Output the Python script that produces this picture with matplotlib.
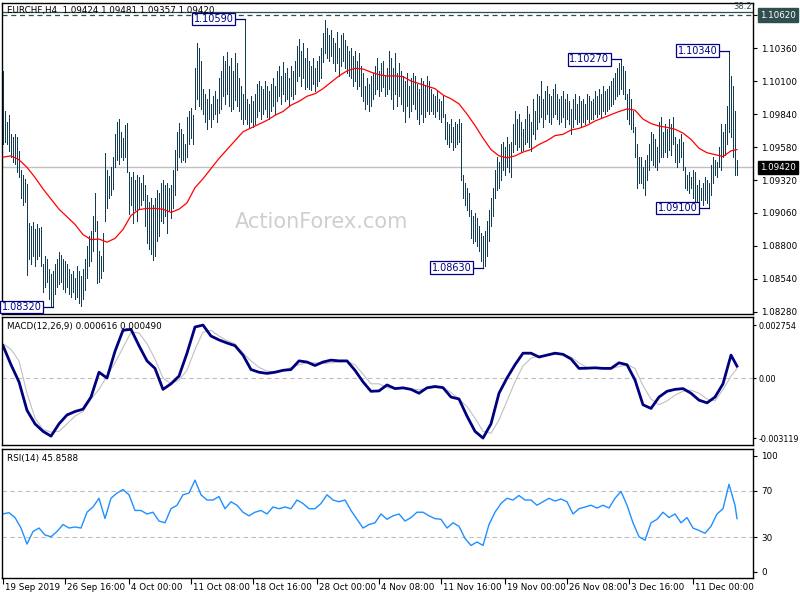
import matplotlib
matplotlib.use("Agg")
import matplotlib.pyplot as plt
import matplotlib.transforms as mtransforms
import numpy as np

# EURCHF H4 - prices stored as pips above BASE
BASE = 1.08

highs_pips = [
    218, 186, 178, 183, 168, 166, 168, 166, 155, 140,
    136, 133, 129, 98, 96, 99, 93, 97, 94, 95,
    66, 72, 70, 62, 58, 60, 66, 70, 75, 73,
    70, 68, 66, 62, 58, 60, 55, 64, 60, 56,
    62, 70, 80, 88, 92, 104, 122, 100, 76, 72,
    90, 153, 140, 135, 142, 150, 168, 178, 180, 170,
    165, 175, 177, 138, 134, 138, 132, 136, 134, 130,
    136, 128, 120, 115, 118, 112, 118, 124, 122, 130,
    132, 128, 130, 126, 128, 140, 156, 170, 177, 172,
    168, 160, 182, 186, 189, 183, 220, 240, 236, 226,
    204, 200, 196, 204, 192, 198, 202, 196, 212, 218,
    230, 226, 233, 222, 228, 218, 232, 224, 212, 206,
    200, 259, 196, 192, 198, 194, 200, 208, 210, 206,
    204, 210, 206, 202, 208, 212, 206, 218, 222, 214,
    225, 216, 220, 212, 222, 218, 226, 238, 243, 234,
    240, 228, 236, 226, 222, 228, 220, 226, 230, 236,
    248, 258, 252, 246, 250, 244, 240, 249, 236, 246,
    248, 242, 238, 234, 236, 230, 234, 226, 232, 222,
    216, 206, 212, 208, 214, 216, 222, 228, 218, 224,
    226, 214, 220, 234, 228, 220, 232, 216, 224, 218,
    214, 210, 216, 206, 212, 216, 214, 208, 204, 212,
    210, 206, 214, 210, 204, 200, 198, 202, 196, 194,
    198, 184, 178, 176, 180, 174, 178, 176, 180, 177,
    136, 130, 126, 122, 108, 104, 106, 102, 96, 90,
    88, 92, 100, 108, 118, 126, 140, 150, 146, 160,
    162, 158, 166, 160, 162, 176, 186, 180, 184, 178,
    172, 180, 190, 184, 178, 196, 186, 200, 198, 210,
    196, 202, 206, 200, 198, 204, 208, 200, 196, 198,
    202, 196, 200, 194, 188, 196, 200, 192, 198, 194,
    196, 192, 200, 198, 194, 196, 202, 198, 204, 200,
    206, 202, 204, 206, 210, 212, 216, 220, 224, 227,
    222, 218, 200, 204, 196, 186, 174, 160, 150, 150,
    142, 148, 152, 160, 170, 168, 164, 158, 178, 182,
    170, 176, 172, 180, 176, 182, 166, 160, 164, 168,
    162, 142, 136, 138, 134, 140, 138, 128, 132, 126,
    130, 134, 132, 130, 144, 150, 148, 146, 158, 176,
    170, 176, 190, 234, 214, 206, 186, 148.1,
]
lows_pips = [
    160, 162, 160, 155, 150, 146, 145, 138, 134, 118,
    112, 115, 57, 70, 66, 72, 64, 70, 72, 64,
    44, 48, 52, 38, 33, 32, 42, 48, 50, 52,
    46, 44, 48, 42, 40, 44, 38, 40, 35, 33,
    38, 45, 55, 64, 68, 76, 92, 51, 52, 55,
    60, 100, 110, 118, 120, 125, 142, 148, 145, 150,
    148, 150, 138, 105, 112, 98, 108, 100, 110, 112,
    116, 96, 82, 78, 74, 69, 72, 84, 88, 100,
    98, 104, 90, 108, 102, 110, 120, 140, 150, 146,
    148, 146, 150, 160, 165, 160, 188, 196, 190, 188,
    184, 178, 172, 180, 174, 180, 184, 178, 185, 188,
    198, 192, 200, 190, 186, 188, 195, 190, 186, 180,
    176, 180, 176, 173, 178, 174, 176, 182, 186, 180,
    184, 188, 182, 180, 186, 190, 184, 194, 198, 192,
    200, 194, 196, 190, 198, 196, 200, 210, 214, 206,
    212, 204, 205, 204, 203, 208, 202, 206, 210, 212,
    225, 232, 228, 226, 230, 224, 218, 224, 214, 222,
    226, 220, 216, 214, 212, 206, 210, 204, 206, 198,
    194, 188, 192, 186, 190, 196, 200, 204, 198, 202,
    205, 198, 200, 204, 196, 188, 200, 190, 198, 192,
    186, 178, 190, 182, 186, 192, 188, 180, 176, 184,
    178, 182, 186, 184, 186, 184, 182, 186, 180, 178,
    182, 164, 160, 158, 162, 156, 158, 160, 162, 132,
    118, 112, 108, 104, 86, 82, 84, 80, 76, 68,
    63, 64, 72, 84, 96, 104, 118, 124, 126, 132,
    140, 136, 142, 138, 134, 154, 160, 156, 158, 154,
    156, 160, 162, 158, 155, 168, 164, 172, 178, 182,
    174, 180, 184, 178, 176, 182, 184, 180, 176, 178,
    182, 174, 180, 176, 168, 174, 180, 176, 178, 174,
    178, 176, 180, 178, 180, 180, 184, 182, 184, 182,
    186, 184, 186, 188, 190, 192, 196, 198, 200, 204,
    200, 196, 180, 176, 172, 170, 150, 126, 130, 130,
    126, 120, 132, 140, 148, 144, 142, 140, 146, 150,
    150, 154, 150, 156, 152, 160, 146, 142, 146, 150,
    140, 126, 124, 122, 126, 118, 114, 112, 114, 116,
    112, 116, 114, 110, 120, 130, 136, 134, 142, 140,
    150, 152, 160, 170, 166, 150, 136, 135.7,
]

# moving average (red), read every 4 bars, pips above BASE
ma_pips = [
    150, 151, 148, 142, 134, 125, 117, 109, 103, 97,
    89, 85, 85.5, 83, 86, 93, 104, 108.7, 109.6, 109.6,
    109, 106.5, 109, 114, 126, 133, 141, 149, 156, 163,
    170, 173, 176, 179, 183, 186, 191, 194, 198, 200,
    204, 209, 214, 218, 220, 219.5, 217, 215, 214, 214,
    213.5, 210, 208, 206, 204, 199, 196, 192, 184, 175,
    165, 156, 151, 149.5, 151, 154, 156, 160, 163, 167,
    168, 171.4, 172.7, 175, 178.5, 181, 183.5, 186, 188, 187,
    180, 176.5, 174.5, 173.5, 172, 169, 164, 157, 153.5, 152,
    150.5, 155, 156,
]
# MACD(12,26,9) main and signal, x 1e-4, every 4 bars
macd_e4 = [
    16.8, 6.9, -2, -16.8, -23.8, -27.7, -30.2, -23.8, -19.2, -17.4,
    -16.2, -9.9, 3, 0, 13.9, 24.8, 25.3, 16.8, 8.9, 5,
    -5.9, -3, 1, 12.9, 26.5, 27.5, 21.8, 19.8, 18.2, 16.8,
    11.9, 4.4, 3, 2.4, 3, 4, 4.4, 8.9, 8.3, 6.5,
    8.3, 9.3, 8.9, 8.9, 4, -2, -6.9, -6.7, -3.6, -5.5,
    -5.1, -5.9, -7.9, -5.1, -4.4, -5, -9.9, -10.9, -19.8, -27.7,
    -31.2, -23.8, -7.9, 0, 6.9, 12.9, 12.9, 10.9, 11.9, 12.9,
    12.3, 9.9, 5, 5.1, 5.3, 5, 5, 7.9, 6.9, -1,
    -13.9, -15.8, -9.9, -6.9, -5.9, -5.5, -7.9, -11.5, -12.9, -9.9,
    -3, 11.9, 6.16,
]
signal_e4 = [
    17.8, 14.9, 8.9, -7.9, -20.8, -26.7, -28.1, -27.7, -23.8, -19.8,
    -17.4, -10.9, -5.9, 1, 7.9, 15.8, 23.8, 23.4, 17.8, 9.9,
    0, -3, -1, 4, 14.9, 23.8, 24.8, 21.8, 19.4, 17.8,
    12.9, 8.9, 5.5, 3.6, 3, 4, 5.5, 6.9, 7.9, 7.9,
    7.5, 7.9, 8.3, 8.5, 6.9, 2, -3, -3, -5, -5.5,
    -5.5, -5.7, -6.1, -5.5, -5, -5, -7.5, -10.9, -14.9, -20.8,
    -27.7, -28.7, -21.8, -11.9, -2, 6.3, 10.3, 11.5, 11.9, 12.3,
    12.3, 10.9, 7.9, 5.5, 5, 5, 5, 5.9, 6.9, 5,
    -4, -10.9, -13.9, -11.9, -8.9, -6.9, -6.3, -7.9, -10.9, -11.9,
    -6, 1, 4.9,
]
# RSI(14), every 3 bars
rsi_vals = [
    50, 51, 46.8, 37.8, 24, 34.8, 37.8, 31.8, 30.3, 34.8,
    40.8, 37.8, 38.7, 37.8, 51.4, 55.9, 63.4, 46, 63.4, 67.9,
    70.9, 66.4, 52.9, 52.9, 49.9, 51.4, 43.8, 42.3, 54.4, 57.4,
    66.4, 67.9, 79, 66.4, 61.9, 61.9, 64.9, 54.4, 60.4, 57.4,
    51.4, 48.3, 51.4, 52.9, 49.9, 55.9, 54.4, 55.9, 54.4, 61.9,
    58.9, 54.4, 54.4, 58.9, 66.4, 61.9, 60.4, 61.9, 52.9, 45.3,
    37.8, 40.8, 42.3, 49.9, 45.3, 48.3, 49.9, 43.8, 46.8, 51.4,
    51.4, 48.3, 45.9, 45.3, 37.8, 42.3, 39.3, 28.8, 22.8, 25.8,
    22.8, 40.8, 51.4, 58.9, 63.4, 61.9, 65.8, 61.9, 61.9, 57.4,
    60.4, 63.4, 61, 62.8, 60.4, 49.9, 54.4, 55.9, 57.4, 55,
    57.4, 55, 63.4, 69.4, 57.4, 42.3, 30.3, 27.3, 42.3, 45.3,
    51.4, 46.8, 49.9, 42.3, 46.8, 37.8, 35.7, 33.3, 39.3, 49.9,
    54.4, 75.4, 57.4, 45.8588,
]

last_ohlc = [1.09424, 1.09481, 1.09357, 1.09420]
hline_level = 1.10620
fib_level = 1.10645

tick_bars = [0, 31, 63, 94, 125, 157, 188, 219, 251, 282, 313, 345]
tick_labels = ["19 Sep 2019", "26 Sep 16:00", "4 Oct 00:00", "11 Oct 08:00",
               "18 Oct 16:00", "28 Oct 00:00", "4 Nov 08:00", "11 Nov 16:00",
               "19 Nov 00:00", "26 Nov 08:00", "3 Dec 16:00", "11 Dec 00:00"]
price_ticks = [1.10360, 1.10100, 1.09840, 1.09580, 1.09320,
               1.09060, 1.08800, 1.08540, 1.08280]

# marked extremes: bar index and which end
extreme_bars = [25, 121, 240, 309, 353, 363]
extreme_kind = ["low", "high", "low", "high", "low", "high"]

plt.rcParams["font.family"] = ["DejaVu Sans"]
plt.rcParams["font.size"] = 6.3

highs = BASE + np.array(highs_pips) / 1e4
lows = BASE + np.array(lows_pips) / 1e4
bars = np.arange(len(highs))
ma = BASE + np.array(ma_pips) / 1e4
step4 = list(range(0, len(highs) - 3, 4)) + [len(highs) - 1]
step3 = list(range(0, len(highs) - 1, 3)) + [len(highs) - 1]
macd = np.array(macd_e4) * 1e-4
signal = np.array(signal_e4) * 1e-4

W, H = 800, 600


def fig_box(left, top, right, bottom):
    return [left / W, 1 - bottom / H, (right - left) / W, (bottom - top) / H]


fig = plt.figure(figsize=(8, 6), dpi=100)
fig.patch.set_facecolor("white")
ax = fig.add_axes(fig_box(2, 3, 753, 314))
ax_macd = fig.add_axes(fig_box(2, 317, 753, 445))
ax_rsi = fig.add_axes(fig_box(2, 449, 753, 578))

bar_color = "#123d54"
for a in (ax, ax_macd, ax_rsi):
    a.set_xlim(-0.5, 375)
    for s in a.spines.values():
        s.set_color("black")
        s.set_linewidth(1.0)
    a.yaxis.tick_right()
    a.tick_params(axis="y", length=3, width=0.8, pad=3, labelsize=6.3, colors="black")
    a.tick_params(axis="x", bottom=False, labelbottom=False)

# --- main price window ---
ax.set_ylim(1.08264, 1.10715)
ax.text(0.426, 0.296, "ActionForex.com", transform=ax.transAxes, fontsize=15,
        color="#cfcfcf", ha="center", va="center", zorder=0)
ax.axhline(last_ohlc[3], color="#c0c0c0", lw=1.0, zorder=1)
ax.axhline(hline_level, color="#2f4f4f", lw=0.9, ls=(0, (4, 3)), zorder=1)
ax.axhline(fib_level, color="#2f4f4f", lw=0.9, zorder=1)
ax.vlines(bars, lows, highs, color=bar_color, lw=0.72, antialiased=False, zorder=2)
ax.plot(step4, ma, color="red", lw=0.9, zorder=3)

ax.set_yticks(price_ticks + [hline_level])
ax.set_yticklabels([f"{p:.5f}" for p in price_ticks] + [""])
tr = mtransforms.blended_transform_factory(ax.transAxes, ax.transData)
ax.text(1.009, hline_level, f"{hline_level:.5f}", transform=tr, ha="left", va="center",
        color="white", fontsize=6.3,
        bbox=dict(boxstyle="square,pad=0.25", fc="#2f4f4f", ec="#2f4f4f"))
ax.text(1.009, last_ohlc[3], f"{last_ohlc[3]:.5f}", transform=tr, ha="left", va="center",
        color="white", fontsize=6.3,
        bbox=dict(boxstyle="square,pad=0.25", fc="black", ec="black"))
ax.text(0.998, fib_level + 0.00004, "38.2", ha="right", va="bottom", color="#2f4f4f",
        fontsize=6, transform=tr)

for b, k in zip(extreme_bars, extreme_kind):
    price = lows[b] if k == "low" else highs[b]
    ax.plot([b - 5, b], [price, price], color="#000080", lw=0.9, zorder=4)
    ax.text(b - 5.8, price, f"{price:.5f}", ha="right", va="center", fontsize=7,
            color="#000080", zorder=5,
            bbox=dict(boxstyle="square,pad=0.12", fc="white", ec="#000080", lw=0.9))

fig.text(7 / W, 1 - 10 / H, "EURCHF,H4  " + " ".join(f"{v:.5f}" for v in last_ohlc),
         ha="left", va="center", fontsize=6.3)

# --- MACD window ---
ax_macd.set_ylim(-0.00348, 0.00317)
ax_macd.axhline(0, color="#c0c0c0", lw=0.8, ls=(0, (4, 3)))
ax_macd.plot(step4, signal, color="#c0c0c0", lw=0.8)
ax_macd.plot(step4, macd, color="#000080", lw=2.0)
ax_macd.set_yticks([0.002754, 0.0, -0.003119])
ax_macd.set_yticklabels(["0.002754", "0.00", "-0.003119"])
ax_macd.tick_params(axis="y", labelsize=5.8, pad=1.5, length=2.5)
fig.text(7 / W, 1 - 326 / H, f"MACD(12,26,9) {macd[-1]:.6f} {signal[-1]:.6f}",
         ha="left", va="center", fontsize=6.3)

# --- RSI window ---
ax_rsi.set_ylim(-5.2, 105.8)
for lvl in (70, 30):
    ax_rsi.axhline(lvl, color="#c0c0c0", lw=0.8, ls=(0, (4, 3)))
ax_rsi.plot(step3, rsi_vals, color="#1e90ff", lw=1.0)
ax_rsi.set_yticks([100, 70, 30, 0])
ax_rsi.set_yticklabels(["100", "70", "30", "0"])
fig.text(7 / W, 1 - 458 / H, f"RSI(14) {rsi_vals[-1]:.4f}", ha="left", va="center",
         fontsize=6.3)

ax_rsi.set_xticks(tick_bars)
ax_rsi.tick_params(axis="x", bottom=True, labelbottom=False, length=4, width=0.8,
                   direction="out")
trx = mtransforms.blended_transform_factory(ax_rsi.transData, ax_rsi.transAxes)
for b, lab in zip(tick_bars, tick_labels):
    ax_rsi.text(b + 0.8, -0.035, lab, transform=trx, ha="left", va="top", fontsize=6.3)

fig.savefig("out.png", dpi=100)
